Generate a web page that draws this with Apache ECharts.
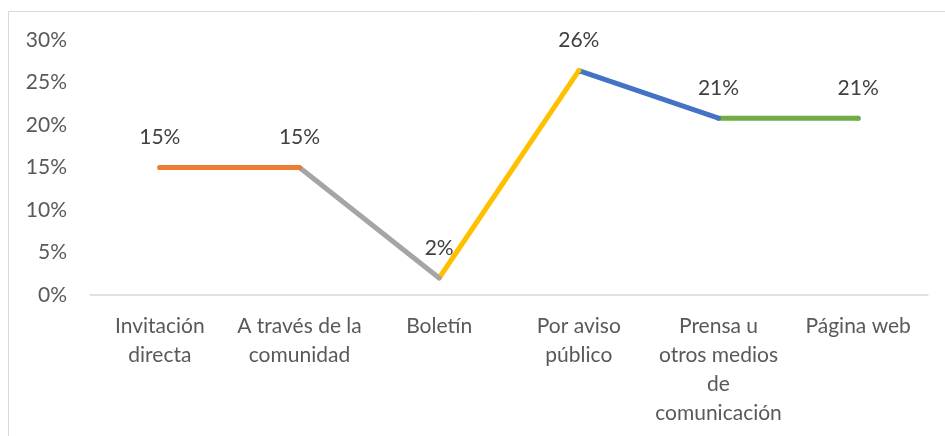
<!DOCTYPE html>
<html>
<head>
<meta charset="utf-8">
<script src="https://cdn.jsdelivr.net/npm/echarts@6/dist/echarts.min.js"></script>
<style>
  html, body { margin: 0; padding: 0; background: #fff; }
  #chart { width: 945px; height: 436px; }
</style>
</head>
<body>
<div id="chart"></div>
<script>
// datos
const categories = [
  'Invitación\ndirecta',
  'A través de la\ncomunidad',
  'Boletín',
  'Por aviso\npúblico',
  'Prensa u\notros medios\nde\ncomunicación',
  'Página web'
]
const values = [15, 15, 2, 26.4, 20.8, 20.8]
const segmentColors = ['#ED7D31', '#A5A5A5', '#FFC000', '#4472C4', '#70AD47']
const yTicks = [0, 5, 10, 15, 20, 25, 30]

const textFont = 'Lato'
const textColor = '#595959'

const chart = echarts.init(document.getElementById('chart'))

// un tramo de color por cada par de puntos
const pieces = segmentColors.map((c, i) => {
  const p = { color: c }
  if (i > 0) p.gt = i
  if (i < segmentColors.length - 1) p.lte = i + 1
  return p
})

chart.setOption({
  animation: false,
  grid: { left: 90, right: 17, top: 40, bottom: 141 },
  graphic: [
    {
      type: 'rect',
      shape: { x: 8.5, y: 11.5, width: 1000, height: 1000 },
      style: { fill: 'none', stroke: '#d9d9d9', lineWidth: 1 },
      silent: true
    }
  ],
  visualMap: {
    show: false,
    type: 'piecewise',
    dimension: 0,
    pieces: pieces
  },
  xAxis: {
    type: 'category',
    data: categories,
    axisTick: { show: false },
    axisLine: { lineStyle: { color: '#d9d9d9', width: 1.5 } },
    axisLabel: {
      interval: 0,
      color: textColor,
      fontFamily: textFont,
      fontSize: 21,
      lineHeight: 29,
      margin: 17,
      verticalAlign: 'top'
    }
  },
  yAxis: {
    type: 'value',
    min: 0,
    max: 30,
    interval: 5,
    splitLine: { show: false },
    axisLine: { show: false },
    axisTick: { show: false },
    axisLabel: {
      color: textColor,
      fontFamily: textFont,
      fontSize: 21,
      margin: 23,
      customValues: yTicks,
      formatter: v => v + '%'
    }
  },
  series: [
    {
      type: 'line',
      data: values,
      symbol: 'circle',
      symbolSize: 5,
      lineStyle: { width: 5, cap: 'round', join: 'round' },
      label: {
        show: true,
        position: 'top',
        distance: 17,
        color: '#404040',
        fontFamily: textFont,
        fontSize: 21,
        formatter: p => Math.round(p.value) + '%'
      }
    }
  ]
})
</script>
</body>
</html>
